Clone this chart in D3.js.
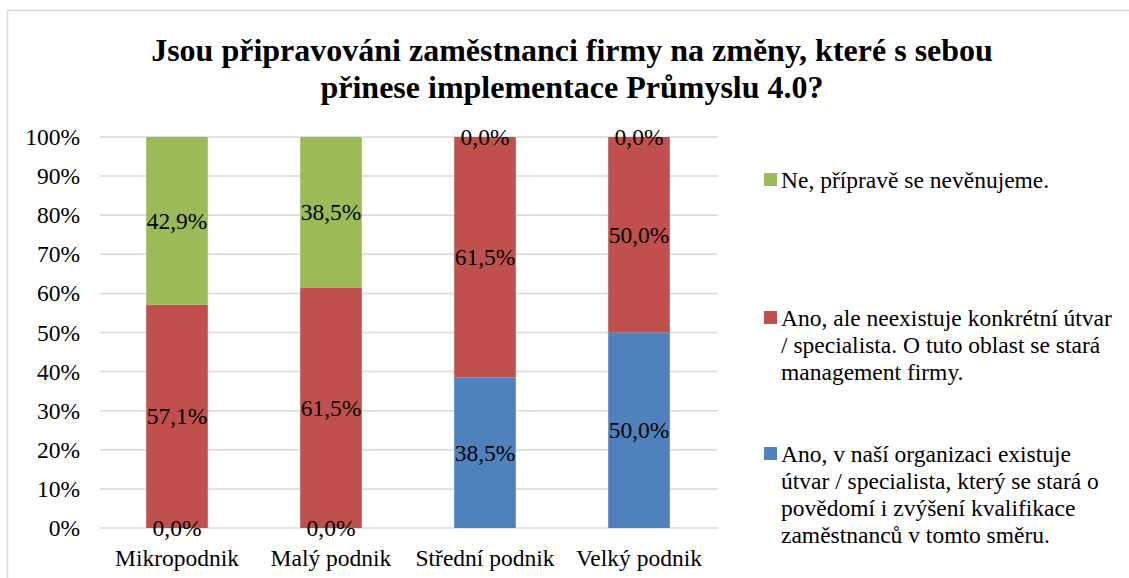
<!DOCTYPE html>
<html>
<head>
<meta charset="utf-8">
<script src="https://cdn.jsdelivr.net/npm/d3@7"></script>
<style>
  html, body { margin: 0; padding: 0; background: #fff; }
  svg { display: block; }
  text { font-family: "Liberation Serif", "Times New Roman", serif; fill: #000; }
</style>
</head>
<body>
<svg id="chart" width="1129" height="578"></svg>
<script>
const categories = ["Mikropodnik", "Malý podnik", "Střední podnik", "Velký podnik"];
const seriesNames = [
  "Ano, v naší organizaci existuje útvar / specialista, který se stará o povědomí i zvýšení kvalifikace zaměstnanců v tomto směru.",
  "Ano, ale neexistuje konkrétní útvar / specialista. O tuto oblast se stará management firmy.",
  "Ne, přípravě se nevěnujeme."
];
const blueValues  = [0, 0, 38.5, 50.0];
const redValues   = [57.1, 61.5, 61.5, 50.0];
const greenValues = [42.9, 38.5, 0, 0];
const yTicks = [0, 10, 20, 30, 40, 50, 60, 70, 80, 90, 100];
const titleLines = [
  "Jsou připravováni zaměstnanci firmy na změny, které s sebou",
  "přinese implementace Průmyslu 4.0?"
];
const legendLines = [
  ["Ne, přípravě se nevěnujeme."],
  ["Ano, ale neexistuje konkrétní útvar", "/ specialista. O tuto oblast se stará", "management firmy."],
  ["Ano, v naší organizaci existuje", "útvar / specialista, který se stará o", "povědomí i zvýšení kvalifikace", "zaměstnanců v tomto směru."]
];
const colors = ["#4F81BD", "#C0504D", "#9BBB59"];
const legendColors = ["#9BBB59", "#C0504D", "#4F81BD"];

const svg = d3.select("#chart");
const FS = 23.5;

// border
svg.append("path")
  .attr("d", "M7.5,580 L7.5,10.5 L1140,10.5")
  .attr("fill", "none").attr("stroke", "#D9D9D9").attr("stroke-width", 1.5);

// title
svg.append("g").selectAll("text").data(titleLines).join("text")
  .attr("x", 572).attr("y", (d, i) => 61 + i * 37)
  .attr("text-anchor", "middle")
  .style("font-size", "32px").style("font-weight", "bold")
  .text(d => d);

const x = d3.scaleBand().domain(categories).range([100, 716]).paddingInner(0.6).paddingOuter(0.3);
const y = d3.scaleLinear().domain([0, 100]).range([528, 137]);

// gridlines
svg.append("g").selectAll("line").data(yTicks).join("line")
  .attr("x1", 100).attr("x2", 718)
  .attr("y1", d => y(d)).attr("y2", d => y(d))
  .attr("stroke", "#D9D9D9").attr("stroke-width", 1.5);

// y labels
svg.append("g").selectAll("text").data(yTicks).join("text")
  .attr("x", 80).attr("y", d => y(d) + 8)
  .attr("text-anchor", "end").style("font-size", FS + "px")
  .text(d => d + "%");

// stacked data
const rows = categories.map((c, i) => ({ cat: c, s0: blueValues[i], s1: redValues[i], s2: greenValues[i] }));
const stack = d3.stack().keys(["s0", "s1", "s2"])(rows);

const groups = svg.append("g").selectAll("g").data(stack).join("g")
  .attr("fill", (d, i) => colors[i]);
groups.selectAll("rect").data(d => d).join("rect")
  .attr("x", d => x(d.data.cat))
  .attr("width", x.bandwidth())
  .attr("y", d => y(d[1]))
  .attr("height", d => y(d[0]) - y(d[1]));

// data labels
const fmt = v => v.toFixed(1).replace(".", ",") + "%";
const lbl = svg.append("g");
stack.forEach(s => {
  s.forEach(d => {
    const v = d[1] - d[0];
    lbl.append("text")
      .attr("x", x(d.data.cat) + x.bandwidth() / 2)
      .attr("y", y((d[0] + d[1]) / 2) + 8)
      .attr("text-anchor", "middle").style("font-size", FS + "px")
      .text(fmt(v));
  });
});

// x labels
svg.append("g").selectAll("text").data(categories).join("text")
  .attr("x", d => x(d) + x.bandwidth() / 2).attr("y", 566)
  .attr("text-anchor", "middle").style("font-size", FS + "px")
  .text(d => d);

// legend
const legendTop = [188, 326, 462];
const lg = svg.append("g");
legendLines.forEach((lines, i) => {
  lg.append("rect").attr("x", 764).attr("y", legendTop[i] - 15)
    .attr("width", 13).attr("height", 13).attr("fill", legendColors[i]);
  lines.forEach((t, j) => {
    lg.append("text").attr("x", 781).attr("y", legendTop[i] + j * 27)
      .style("font-size", FS + "px").text(t);
  });
});
</script>
</body>
</html>
